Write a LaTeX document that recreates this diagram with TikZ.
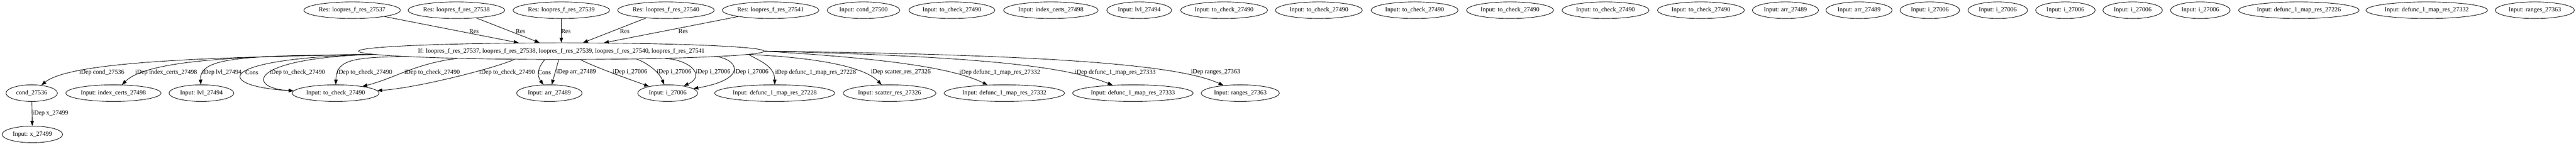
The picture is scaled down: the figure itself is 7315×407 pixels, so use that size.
\documentclass[tikz,border=0pt]{standalone}
\usepackage{fontspec}
\setmainfont{Liberation Serif}
\usetikzlibrary{arrows.meta,shapes.geometric}
\begin{document}
\begin{tikzpicture}[x=1pt,y=-1pt,
  every node/.append style={font=\fontsize{17.9}{21}\selectfont},
  nd/.style={draw,ellipse,line width=1.3pt,inner sep=0pt,minimum height=47pt},
  lbl/.style={inner sep=0pt},
  edge/.style={line width=1.3pt,-{Triangle[length=14pt,width=10pt]}},
]
\useasboundingbox (0,0) rectangle (7315,407);
% top row
\node[nd,minimum width=274pt] (r37) at (1000,29) {Res: loopres\_f\_res\_27537};
\node[nd,minimum width=274pt] (r38) at (1296,29) {Res: loopres\_f\_res\_27538};
\node[nd,minimum width=274pt] (r39) at (1594,29) {Res: loopres\_f\_res\_27539};
\node[nd,minimum width=274pt] (r40) at (1891,29) {Res: loopres\_f\_res\_27540};
\node[nd,minimum width=274pt] (r41) at (2188,29) {Res: loopres\_f\_res\_27541};
\node[nd,minimum width=206pt] (t1) at (2452,29) {Input: cond\_27500};
\node[nd,minimum width=244pt] (t2) at (2703,29) {Input: to\_check\_27490};
\node[nd,minimum width=268pt] (t3) at (2984,29) {Input: index\_certs\_27498};
\node[nd,minimum width=184pt] (t4) at (3235,29) {Input: lvl\_27494};
\node[nd,minimum width=247pt] (t5) at (3476,29) {Input: to\_check\_27490};
\node[nd,minimum width=247pt] (t6) at (3745,29) {Input: to\_check\_27490};
\node[nd,minimum width=247pt] (t7) at (4017,29) {Input: to\_check\_27490};
\node[nd,minimum width=247pt] (t8) at (4288,29) {Input: to\_check\_27490};
\node[nd,minimum width=247pt] (t9) at (4559,29) {Input: to\_check\_27490};
\node[nd,minimum width=247pt] (t10) at (4830,29) {Input: to\_check\_27490};
\node[nd,minimum width=188pt] (t11) at (5070,29) {Input: arr\_27489};
\node[nd,minimum width=188pt] (t12) at (5279,29) {Input: arr\_27489};
\node[nd,minimum width=169pt] (t13) at (5480,29) {Input: i\_27006};
\node[nd,minimum width=169pt] (t14) at (5673,29) {Input: i\_27006};
\node[nd,minimum width=169pt] (t15) at (5865,29) {Input: i\_27006};
\node[nd,minimum width=169pt] (t16) at (6056,29) {Input: i\_27006};
\node[nd,minimum width=169pt] (t17) at (6248,29) {Input: i\_27006};
\node[nd,minimum width=342pt] (t18) at (6528,29) {Input: defunc\_1\_map\_res\_27226};
\node[nd,minimum width=345pt] (t19) at (6891,29) {Input: defunc\_1\_map\_res\_27332};
\node[nd,minimum width=225pt] (t20) at (7198,29) {Input: ranges\_27363};
% If node
\node[nd,minimum width=1097pt] (if) at (1594,145) {If: loopres\_f\_res\_27537, loopres\_f\_res\_27538, loopres\_f\_res\_27539, loopres\_f\_res\_27540, loopres\_f\_res\_27541};
% bottom row
\node[nd,minimum width=146pt] (b1) at (90,264) {cond\_27536};
\node[nd,minimum width=270pt] (b2) at (322,264) {Input: index\_certs\_27498};
\node[nd,minimum width=184pt] (b3) at (572,264) {Input: lvl\_27494};
\node[nd,minimum width=247pt] (b4) at (953,264) {Input: to\_check\_27490};
\node[nd,minimum width=186pt] (b5) at (1560,264) {Input: arr\_27489};
\node[nd,minimum width=170pt] (b6) at (1896,264) {Input: i\_27006};
\node[nd,minimum width=341pt] (b7) at (2200,264) {Input: defunc\_1\_map\_res\_27228};
\node[nd,minimum width=263pt] (b8) at (2526,264) {Input: scatter\_res\_27326};
\node[nd,minimum width=342pt] (b9) at (2852,264) {Input: defunc\_1\_map\_res\_27332};
\node[nd,minimum width=342pt] (b10) at (3217,264) {Input: defunc\_1\_map\_res\_27333};
\node[nd,minimum width=222pt] (b11) at (3522,264) {Input: ranges\_27363};
\node[nd,minimum width=172pt] (xn) at (92,381) {Input: x\_27499};
% Res edges
\draw[edge] (r37) -- (if);
\draw[edge] (r38) -- (if);
\draw[edge] (r39) -- (if);
\draw[edge] (r40) -- (if);
\draw[edge] (r41) -- (if);
\node[lbl] (lr37) at (1346,88) {Res};
\node[lbl] (lr38) at (1478,88) {Res};
\node[lbl] (lr39) at (1607,88) {Res};
\node[lbl] (lr40) at (1774,88) {Res};
\node[lbl] (lr41) at (1940,88) {Res};
% dependency edges
\draw[edge] (if.-179.8) .. controls (600,162) and (200,174) .. (b1);
\draw[edge] (if.-179.7) .. controls (700,158) and (420,168) .. (b2);
\draw[edge] (if.-179.5) .. controls (700,158) and (565,160) .. (b3);
\draw[edge] (if.-179.3) .. controls (600,165) and (610,245) .. (b4);
\draw[edge] (if.-179.1) .. controls (700,165) and (700,250) .. (b4);
\draw[edge] (if.-178.7) .. controls (1000,162) and (955,170) .. (b4);
\draw[edge] (if.-176) .. controls (1180,180) and (1120,222) .. (b4);
\draw[edge] (if.-170.3) .. controls (1400,195) and (1180,250) .. (b4);
\draw[edge] (if.-153) .. controls (1525,195) and (1525,215) .. (b5);
\draw[edge] (if.-107) -- (b5);
\draw[edge] (if.-24) .. controls (1690,190) and (1760,215) .. (b6);
\draw[edge] (if.-6.7) .. controls (1830,175) and (1870,200) .. (b6);
\draw[edge] (if.-4.0) .. controls (1960,170) and (2005,215) .. (b6);
\draw[edge] (if.-2.7) .. controls (2100,172) and (2120,225) .. (b6);
\draw[edge] (if.-1.9) .. controls (2150,170) and (2200,185) .. (b7);
\draw[edge] (if.-1.3) .. controls (2350,165) and (2460,195) .. (b8);
\draw[edge] (if.-0.9) .. controls (2500,165) and (2700,190) .. (b9);
\draw[edge] (if.-0.6) .. controls (2800,160) and (3030,190) .. (b10);
\draw[edge] (if.-0.25) .. controls (3000,155) and (3350,185) .. (b11);
\draw[edge] (b1) -- (xn);
% edge labels
\node[lbl] (l1) at (289,205) {iDep cond\_27536};
\node[lbl] (l2) at (472,205) {iDep index\_certs\_27498};
\node[lbl] (l3) at (630,205) {iDep lvl\_27494};
\node[lbl] (l4) at (715,205) {Cons};
\node[lbl] (l5) at (844,205) {iDep to\_check\_27490};
\node[lbl] (l6) at (1035,205) {iDep to\_check\_27490};
\node[lbl] (l7) at (1227,205) {iDep to\_check\_27490};
\node[lbl] (l8) at (1440,205) {iDep to\_check\_27490};
\node[lbl] (l9) at (1546,205) {Cons};
\node[lbl] (l10) at (1636,205) {iDep arr\_27489};
\node[lbl] (l11) at (1789,205) {iDep i\_27006};
\node[lbl] (l12) at (1914,205) {iDep i\_27006};
\node[lbl] (l13) at (2025,205) {iDep i\_27006};
\node[lbl] (l14) at (2133,205) {iDep i\_27006};
\node[lbl] (l15) at (2316,205) {iDep defunc\_1\_map\_res\_27228};
\node[lbl] (l16) at (2558,205) {iDep scatter\_res\_27326};
\node[lbl] (l17) at (2839,205) {iDep defunc\_1\_map\_res\_27332};
\node[lbl] (l18) at (3167,205) {iDep defunc\_1\_map\_res\_27333};
\node[lbl] (l19) at (3452,205) {iDep ranges\_27363};
\node[lbl] (l20) at (143,322) {iDep x\_27499};
\end{tikzpicture}
\end{document}
